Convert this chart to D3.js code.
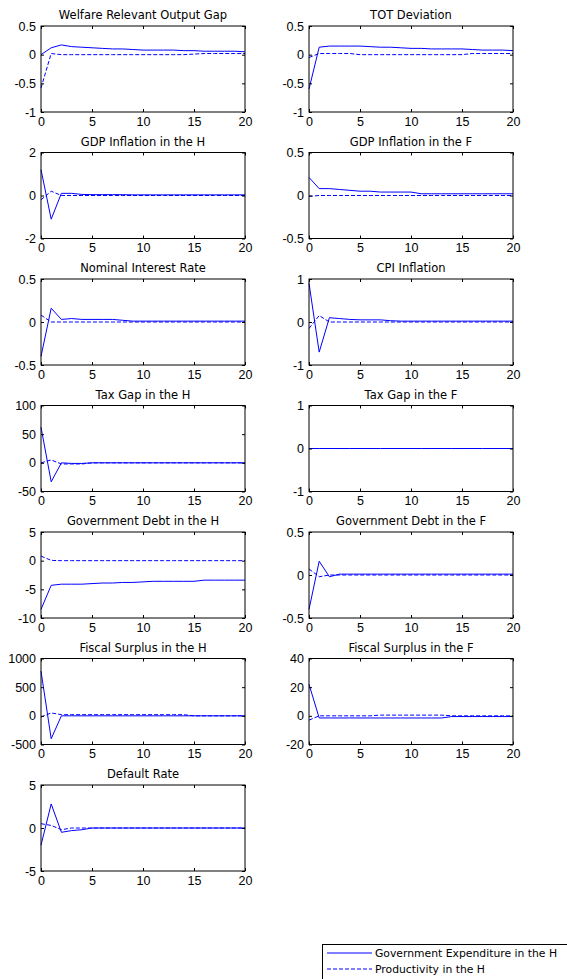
<!DOCTYPE html>
<html>
<head>
<meta charset="utf-8">
<script src="https://cdn.jsdelivr.net/npm/d3@7"></script>
<style>
  body { margin: 0; background: #fff; }
  svg text { fill: #000; font-weight: normal; }
  .tick-label { font-family: "Liberation Sans Narrow", "Liberation Sans", Arial, sans-serif; font-size: 12.5px; }
  .panel-title { font-family: "DejaVu Sans", sans-serif; font-size: 11.5px; }
  .legend-text { font-family: "DejaVu Sans", sans-serif; font-size: 10.8px; }
</style>
</head>
<body>
<div id="chart"></div>
<script>
// periods 0..20
const periods = d3.range(0, 21);

// panel titles and y ranges
const titles = [
  'Welfare Relevant Output Gap', 'TOT Deviation',
  'GDP Inflation in the H', 'GDP Inflation in the F',
  'Nominal Interest Rate', 'CPI Inflation',
  'Tax Gap in the H', 'Tax Gap in the F',
  'Government Debt in the H', 'Government Debt in the F',
  'Fiscal Surplus in the H', 'Fiscal Surplus in the F',
  'Default Rate'
];
const yDomains = [
  [-1, 0.5], [-1, 0.5], [-2, 2], [-0.5, 0.5], [-0.5, 0.5], [-1, 1],
  [-50, 100], [-1, 1], [-10, 5], [-0.5, 0.5], [-500, 1000], [-20, 40], [-5, 5]
];
const yTicks = [
  [-1, -0.5, 0, 0.5], [-1, -0.5, 0, 0.5], [-2, 0, 2], [-0.5, 0, 0.5],
  [-0.5, 0, 0.5], [-1, 0, 1], [-50, 0, 50, 100], [-1, 0, 1],
  [-10, -5, 0, 5], [-0.5, 0, 0.5], [-500, 0, 500, 1000], [-20, 0, 20, 40], [-5, 0, 5]
];
const xTicks = [0, 5, 10, 15, 20];
const seriesNames = ['Government Expenditure in the H', 'Productivity in the H'];

// government expenditure shock (solid) / productivity shock (dashed)
const outputGapGov  = [0, 0.12, 0.17, 0.14, 0.13, 0.12, 0.11, 0.10, 0.10, 0.09, 0.08, 0.08, 0.08, 0.08, 0.07, 0.07, 0.06, 0.06, 0.06, 0.06, 0.05];
const outputGapProd = [-0.58, 0.02, 0, 0, 0, 0, 0, 0, 0, 0, 0, 0, 0, 0, 0, 0.01, 0.02, 0.02, 0.02, 0.02, 0.02];
const totGov  = [-0.6, 0.13, 0.15, 0.15, 0.15, 0.15, 0.14, 0.13, 0.13, 0.12, 0.11, 0.11, 0.10, 0.10, 0.10, 0.10, 0.09, 0.08, 0.08, 0.08, 0.07];
const totProd = [-0.05, 0.02, 0.02, 0.02, 0.02, 0, 0, 0, 0, 0, 0, 0, 0, 0, 0, 0, 0.02, 0.02, 0.02, 0.02, 0.02];
const gdpInfHGov  = [1.2, -1.1, 0.1, 0.1, 0.05, 0.04, 0.04, 0.04, 0.04, 0.03, 0.03, 0.03, 0.03, 0.03, 0.03, 0.03, 0.03, 0.03, 0.03, 0.03, 0.03];
const gdpInfHProd = [-0.2, 0.2, 0, 0, 0, 0, 0, 0, 0, 0, 0, 0, 0, 0, 0, 0, 0, 0, 0, 0, 0];
const gdpInfFGov  = [0.21, 0.08, 0.08, 0.07, 0.06, 0.05, 0.05, 0.04, 0.04, 0.04, 0.04, 0.02, 0.02, 0.02, 0.02, 0.02, 0.02, 0.02, 0.02, 0.02, 0.02];
const gdpInfFProd = [-0.01, 0, 0, 0, 0, 0, 0, 0, 0, 0, 0, 0, 0, 0, 0, 0, 0, 0, 0, 0, 0];
const interestGov  = [-0.4, 0.16, 0.03, 0.04, 0.03, 0.03, 0.03, 0.03, 0.02, 0.01, 0.01, 0.01, 0.01, 0.01, 0.01, 0.01, 0.01, 0.01, 0.01, 0.01, 0.01];
const interestProd = [0.08, 0, 0, 0, 0, 0, 0, 0, 0, 0, 0, 0, 0, 0, 0, 0, 0, 0, 0, 0, 0];
const cpiGov  = [0.9, -0.7, 0.1, 0.08, 0.06, 0.05, 0.05, 0.05, 0.03, 0.02, 0.02, 0.02, 0.02, 0.02, 0.02, 0.02, 0.02, 0.02, 0.02, 0.02, 0.02];
const cpiProd = [-0.15, 0.15, 0, 0, 0, 0, 0, 0, 0, 0, 0, 0, 0, 0, 0, 0, 0, 0, 0, 0, 0];
const taxHGov  = [62, -33, 0, -1, -1, 0, 0, 0, 0, 0, 0, 0, 0, 0, 0, 0, 0, 0, 0, 0, 0];
const taxHProd = [0, 5, -2, -2, -2, 0, 0, 0, 0, 0, 0, 0, 0, 0, 0, 0, 0, 0, 0, 0, 0];
const taxFGov  = [0, 0, 0, 0, 0, 0, 0, 0, 0, 0, 0, 0, 0, 0, 0, 0, 0, 0, 0, 0, 0];
const taxFProd = [0, 0, 0, 0, 0, 0, 0, 0, 0, 0, 0, 0, 0, 0, 0, 0, 0, 0, 0, 0, 0];
const debtHGov  = [-8.5, -4.3, -4.1, -4.1, -4.1, -4.0, -3.9, -3.9, -3.8, -3.8, -3.7, -3.6, -3.6, -3.6, -3.6, -3.6, -3.4, -3.4, -3.4, -3.4, -3.4];
const debtHProd = [0.8, 0.05, 0, 0, 0, 0, 0, 0, 0, 0, 0, 0, 0, 0, 0, 0, 0, 0, 0, 0, 0];
const debtFGov  = [-0.4, 0.16, -0.02, 0.01, 0.01, 0.01, 0.01, 0.01, 0.01, 0.01, 0.01, 0.01, 0.01, 0.01, 0.01, 0.01, 0.01, 0.01, 0.01, 0.01, 0.01];
const debtFProd = [0.07, -0.02, 0, 0, 0, 0, 0, 0, 0, 0, 0, 0, 0, 0, 0, 0, 0, 0, 0, 0, 0];
const surplusHGov  = [780, -400, 0, 0, 0, 0, 0, 0, 0, 0, 0, 0, 0, 0, 0, 0, 0, 0, 0, 0, 0];
const surplusHProd = [-20, 50, 20, 20, 20, 20, 20, 20, 20, 20, 20, 20, 20, 20, 20, 0, 0, 0, 0, 0, 0];
const surplusFGov  = [22, -1.5, -1.5, -1.5, -1.5, -1.5, -1.5, -1.5, -1.5, -1.5, -1.5, -1.5, -1.5, -1.5, -0.5, -0.5, -0.5, -0.5, -0.5, -0.5, -0.5];
const surplusFProd = [-3, 0, 0, 0, 0, 0, 0, 0.5, 0.5, 0.5, 0.5, 0.5, 0.5, 0.5, 0, 0, 0, 0, 0, 0, 0];
const defaultGov  = [-2, 2.8, -0.5, -0.3, -0.2, 0, 0, 0, 0, 0, 0, 0, 0, 0, 0, 0, 0, 0, 0, 0, 0];
const defaultProd = [0.5, 0.3, -0.2, 0, 0, 0, 0, 0, 0, 0, 0, 0, 0, 0, 0, 0, 0, 0, 0, 0, 0];

const govSeries = [outputGapGov, totGov, gdpInfHGov, gdpInfFGov, interestGov, cpiGov,
  taxHGov, taxFGov, debtHGov, debtFGov, surplusHGov, surplusFGov, defaultGov];
const prodSeries = [outputGapProd, totProd, gdpInfHProd, gdpInfFProd, interestProd, cpiProd,
  taxHProd, taxFProd, debtHProd, debtFProd, surplusHProd, surplusFProd, defaultProd];

const W = 567, H = 979;
const colLeft = [41, 309], plotW = 204, plotH = 86;
const rowTop = 26, rowStep = 126.5;
const blue = '#0000ff';

// matlab style labels: plain numbers, ascii minus
const fmt = d => String(d);

const svg = d3.select('#chart').append('svg')
  .attr('width', W).attr('height', H);

titles.forEach((title, i) => {
  const col = i % 2, row = Math.floor(i / 2);
  const g = svg.append('g')
    .attr('transform', 'translate(' + colLeft[col] + ',' + (rowTop + row * rowStep) + ')');

  const x = d3.scaleLinear().domain([0, 20]).range([0, plotW]);
  const y = d3.scaleLinear().domain(yDomains[i]).range([plotH, 0]);

  const line = d3.line().x((d, k) => x(periods[k])).y(d => y(d));
  g.append('path').datum(govSeries[i])
    .attr('d', line).attr('fill', 'none')
    .attr('stroke', blue).attr('stroke-width', 1);
  g.append('path').datum(prodSeries[i])
    .attr('d', line).attr('fill', 'none')
    .attr('stroke', blue).attr('stroke-width', 1)
    .attr('stroke-dasharray', '4,2');

  // bottom / left axes, ticks pointing in
  const xAxis = g.append('g').attr('transform', 'translate(0,' + plotH + ')')
    .call(d3.axisBottom(x).tickValues(xTicks).tickSize(-3).tickPadding(5).tickFormat(fmt));
  g.append('g')
    .call(d3.axisLeft(y).tickValues(yTicks[i]).tickSize(-3).tickPadding(5).tickFormat(fmt));
  // mirrored ticks on top / right
  g.append('g').call(d3.axisTop(x).tickValues(xTicks).tickSize(-3).tickFormat(''));
  g.append('g').attr('transform', 'translate(' + plotW + ',0)')
    .call(d3.axisRight(y).tickValues(yTicks[i]).tickSize(-3).tickFormat(''));

  g.selectAll('.domain').remove();
  g.selectAll('.tick line').attr('stroke', '#000');
  g.selectAll('.tick text').attr('class', 'tick-label')
    .attr('font-family', null).attr('font-size', null)
    .attr('fill', '#000');
  g.selectAll('g').attr('font-family', null).attr('font-size', null);
  xAxis.selectAll('.tick text').attr('dy', '0.71em');

  g.append('rect')
    .attr('width', plotW).attr('height', plotH)
    .attr('fill', 'none').attr('stroke', '#000').attr('stroke-width', 1);

  g.append('text')
    .attr('class', 'panel-title')
    .attr('x', plotW / 2).attr('y', -7)
    .attr('text-anchor', 'middle')
    .text(title);
});

// legend box (runs off the right edge as in the original)
const legend = svg.append('g').attr('transform', 'translate(322,944)');
legend.append('rect')
  .attr('x', 0.5).attr('y', 0.5).attr('width', 260).attr('height', 40)
  .attr('fill', '#fff').attr('stroke', '#000');
seriesNames.forEach((name, k) => {
  const ly = 9 + k * 16;
  legend.append('line')
    .attr('x1', 5).attr('x2', 50).attr('y1', ly).attr('y2', ly)
    .attr('stroke', blue).attr('stroke-width', 1)
    .attr('stroke-dasharray', k === 1 ? '4,2' : null);
  legend.append('text')
    .attr('class', 'legend-text')
    .attr('x', 53).attr('y', ly + 4)
    .text(name);
});
</script>
</body>
</html>
